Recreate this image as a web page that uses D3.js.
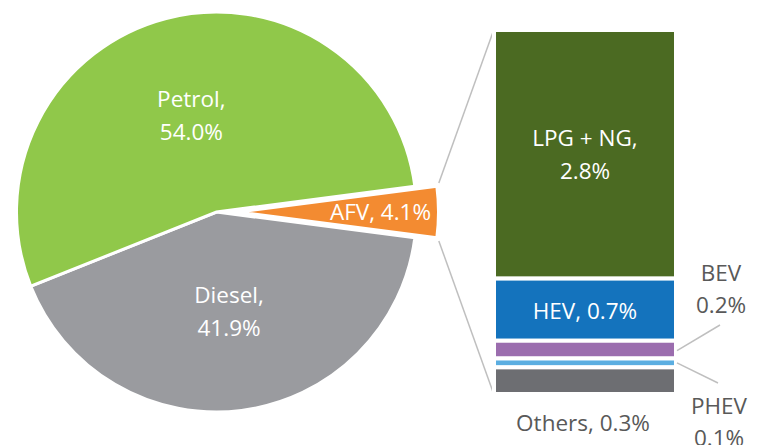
<!DOCTYPE html>
<html><head><meta charset="utf-8">
<script src="https://cdn.jsdelivr.net/npm/d3@7"></script>
<style>html,body{margin:0;padding:0;background:#fff;}svg{display:block;}</style>
</head><body>
<svg id="c" width="762" height="445"></svg>
<script>
const pieCats = ["AFV", "Diesel", "Petrol"];
const pieVals = [4.1, 41.9, 54.0];
const pieColors = ["#F38B31", "#9A9B9F", "#90C84A"];
const barCats = ["LPG + NG", "HEV", "BEV", "PHEV", "Others"];
const barVals = [2.8, 0.7, 0.2, 0.1, 0.3];
const barColors = ["#4B6A22", "#1473BD", "#9B6DAE", "#5BAEE1", "#6D6E72"];

const svg = d3.select("#c");
const font = "'Open Sans', Lato, sans-serif";
const fs = 22.5;
const cx = 216.5, cy = 212, R = 200, explode = 22;

const afvFrac = pieVals[0] / d3.sum(pieVals);
const start = Math.PI / 2 - afvFrac * Math.PI;
const pie = d3.pie().sort(null).startAngle(start).endAngle(start + 2 * Math.PI);
const arcs = pie(pieVals);
const arc = d3.arc().innerRadius(0).outerRadius(R);

const g = svg.append("g").attr("transform", `translate(${cx},${cy})`);
arcs.forEach((a, i) => {
  const mid = (a.startAngle + a.endAngle) / 2;
  const off = i === 0 ? explode : 0;
  const dx = Math.sin(mid) * off, dy = -Math.cos(mid) * off;
  const sg = g.append("g").attr("transform", `translate(${dx},${dy})`);
  sg.append("path").attr("d", arc(a)).attr("fill", pieColors[i])
    .attr("stroke", "#fff").attr("stroke-width", 3).attr("stroke-linejoin", "miter");
});

function pieLabel(i, r, lines) {
  const a = arcs[i];
  const mid = (a.startAngle + a.endAngle) / 2;
  const x = Math.sin(mid) * r, y = -Math.cos(mid) * r;
  const t = g.append("text").attr("x", x).attr("y", y)
    .attr("text-anchor", "middle").attr("fill", "#fff")
    .attr("font-family", font).attr("font-size", fs);
  const lh = 33;
  lines.forEach((l, k) => {
    t.append("tspan").attr("x", x)
      .attr("y", y + (k - (lines.length - 1) / 2) * lh + 8).text(l);
  });
}
pieLabel(2, 100, [pieCats[2] + ",", pieVals[2].toFixed(1) + "%"]);
pieLabel(1, 100, [pieCats[1] + ",", pieVals[1].toFixed(1) + "%"]);
pieLabel(0, 164, [pieCats[0] + ", " + pieVals[0].toFixed(1) + "%"]);

const bx0 = 494, bx1 = 676;
const y = d3.scaleLinear().domain([0, d3.sum(barVals)]).range([30, 394]);
let acc = 0;
const segs = barVals.map((v, i) => { const s = { i, y0: acc, y1: acc + v }; acc += v; return s; });

const afv = arcs[0];
const afvMid = (afv.startAngle + afv.endAngle) / 2;
const ex = Math.sin(afvMid) * explode, ey = -Math.cos(afvMid) * explode;
const pTop = [cx + ex + Math.sin(afv.startAngle) * (R + 2), cy + ey - Math.cos(afv.startAngle) * (R + 2)];
const pBot = [cx + ex + Math.sin(afv.endAngle) * (R + 2), cy + ey - Math.cos(afv.endAngle) * (R + 2)];
svg.append("line").attr("x1", pTop[0]).attr("y1", pTop[1] - 3).attr("x2", bx0 - 1).attr("y2", y(0) + 2)
  .attr("stroke", "#BFBFBF").attr("stroke-width", 1.5);
svg.append("line").attr("x1", pBot[0]).attr("y1", pBot[1] + 3).attr("x2", bx0 - 1).attr("y2", y(d3.sum(barVals)) - 2)
  .attr("stroke", "#BFBFBF").attr("stroke-width", 1.5);

svg.append("g").selectAll("rect").data(segs).join("rect")
  .attr("x", bx0).attr("width", bx1 - bx0)
  .attr("y", d => y(d.y0)).attr("height", d => y(d.y1) - y(d.y0))
  .attr("fill", d => barColors[d.i]).attr("stroke", "#fff").attr("stroke-width", 4);

const bmid = (bx0 + bx1) / 2;
function txt(x, yy, s, col) {
  svg.append("text").attr("x", x).attr("y", yy).attr("text-anchor", "middle")
    .attr("fill", col).attr("font-family", font).attr("font-size", fs).text(s);
}
const lpgC = (y(segs[0].y0) + y(segs[0].y1)) / 2;
txt(bmid, lpgC - 8, barCats[0] + ",", "#fff");
txt(bmid, lpgC + 25, barVals[0].toFixed(1) + "%", "#fff");
const hevC = (y(segs[1].y0) + y(segs[1].y1)) / 2;
txt(bmid, hevC + 9, barCats[1] + ", " + barVals[1].toFixed(1) + "%", "#fff");
txt(bmid - 2, 431, barCats[4] + ", " + barVals[4].toFixed(1) + "%", "#595959");
txt(721, 281, barCats[2], "#595959");
txt(721, 313, barVals[2].toFixed(1) + "%", "#595959");
const bevC = (y(segs[2].y0) + y(segs[2].y1)) / 2;
svg.append("line").attr("x1", bx1 + 1).attr("y1", bevC + 1).attr("x2", 720).attr("y2", 325)
  .attr("stroke", "#BFBFBF").attr("stroke-width", 1.5);
txt(719, 414, barCats[3], "#595959");
txt(719, 446, barVals[3].toFixed(1) + "%", "#595959");
const phevC = (y(segs[3].y0) + y(segs[3].y1)) / 2;
svg.append("line").attr("x1", bx1 + 1).attr("y1", phevC).attr("x2", 718).attr("y2", 383)
  .attr("stroke", "#BFBFBF").attr("stroke-width", 1.5);
</script>
</body></html>
